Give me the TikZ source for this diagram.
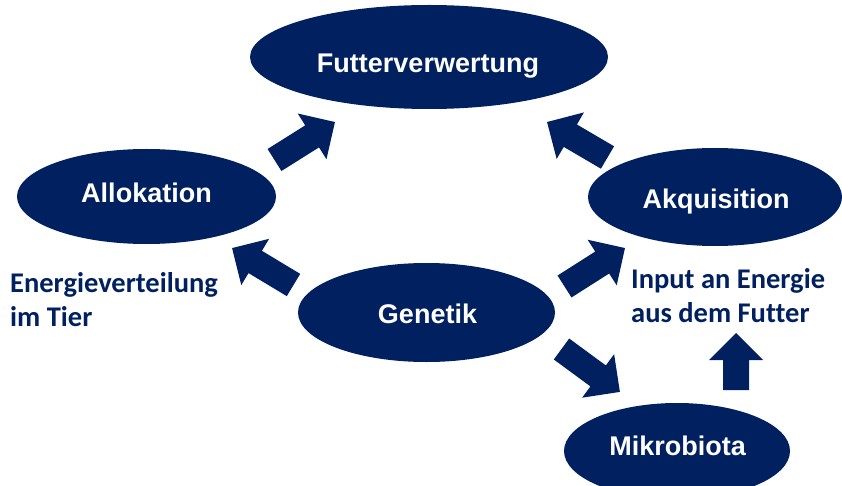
\documentclass[tikz,border=0pt]{standalone}
\usepackage{fontspec}
\setmainfont{Liberation Sans}
\newfontfamily\calfont[Ligatures=NoCommon]{Carlito}
\usetikzlibrary{shapes.geometric,calc}
\definecolor{navy}{RGB}{0,32,96}
\tikzset{
  ell/.style={ellipse, fill=navy, draw=none, inner sep=0pt},
  wt/.style={text=white, anchor=base, inner sep=0pt, font=\fontsize{27}{30}\selectfont\bfseries},
  bt/.style={text=navy, anchor=base west, inner sep=0pt, align=left, font=\calfont\fontsize{28.5}{33.5}\selectfont\bfseries},
}
\newcommand\barrow[2]{%
  \fill[navy] let \p1=($(#2)-(#1)$), \n1={atan2(\y1,\x1)}, \n2={veclen(\x1,\y1)} in
    [shift={(#1)}, rotate=\n1]
    (0pt,-13pt) -- ({(\n2-27)*1pt},-13pt) -- ({(\n2-27)*1pt},-27pt) -- ({\n2*1pt},0pt)
    -- ({(\n2-27)*1pt},27pt) -- ({(\n2-27)*1pt},13pt) -- (0pt,13pt) -- cycle;}
\begin{document}
\begin{tikzpicture}[x=1pt,y=-1pt]
\useasboundingbox (0,0) rectangle (842,486);
\clip (0,0) rectangle (842,486);
% ellipses
\node[ell, minimum width=358pt, minimum height=104pt] (fv) at (429,57) {};
\node[ell, minimum width=259pt, minimum height=95pt] (al) at (146.5,196.5) {};
\node[ell, minimum width=254pt, minimum height=98pt] (ak) at (715,197) {};
\node[ell, minimum width=257pt, minimum height=99pt] (ge) at (426.5,312.5) {};
\node[ell, minimum width=226pt, minimum height=96pt] (mi) at (677,451) {};
% labels in ellipses
\node[wt] (fvt) at (428,73) {Futterverwertung};
\node[wt] (alt) at (146.5,203) {Allokation};
\node[wt] (akt) at (716,208) {Akquisition};
\node[wt] (get) at (427.5,323) {Genetik};
\node[wt] (mit) at (677.5,455) {Mikrobiota};
% side texts (base anchor = last line)
\node[bt] (ev) at (10,326) {Energieverteilung\\im Tier};
\node[bt] (ie) at (631,322) {Input an Energie\\aus dem Futter};
% arrow end points
\coordinate (a1s) at (274.5,160); \coordinate (a1e) at (335,122);
\coordinate (a2s) at (607.5,157.5); \coordinate (a2e) at (547,122);
\coordinate (a3s) at (564.5,286.5); \coordinate (a3e) at (625,248);
\coordinate (a4s) at (293.5,285); \coordinate (a4e) at (232,248);
\coordinate (a5s) at (561.5,349); \coordinate (a5e) at (620,392);
\coordinate (a6s) at (736,390); \coordinate (a6e) at (736,333);
\barrow{a1s}{a1e}
\barrow{a2s}{a2e}
\barrow{a3s}{a3e}
\barrow{a4s}{a4e}
\barrow{a5s}{a5e}
\barrow{a6s}{a6e}
\end{tikzpicture}
\end{document}
